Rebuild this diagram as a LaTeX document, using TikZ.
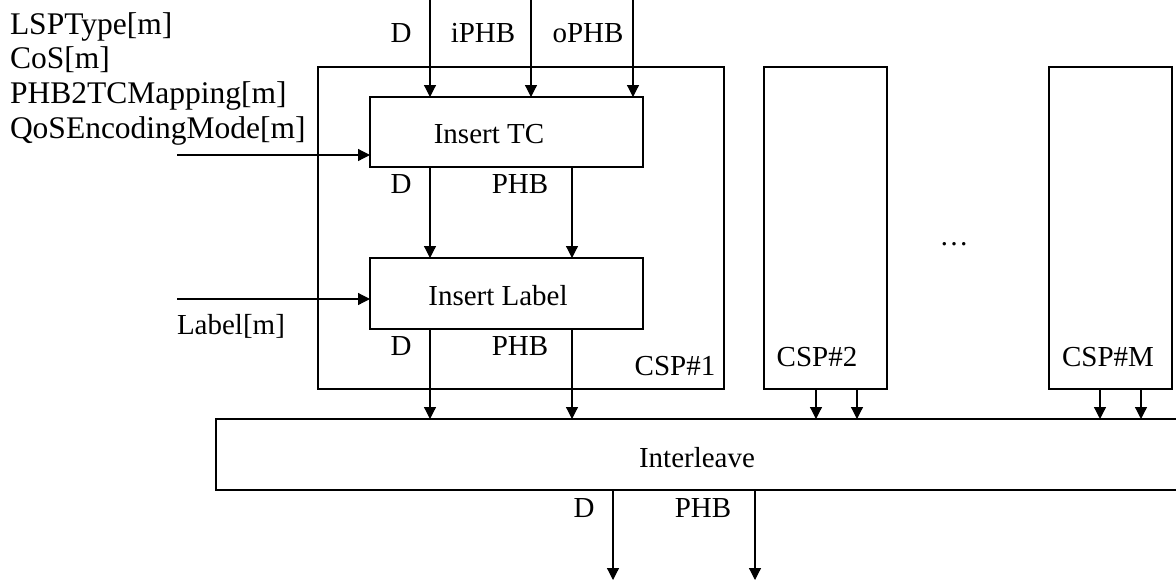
\documentclass[tikz,border=0pt]{standalone}
\usepackage{fontspec}
\setmainfont{Liberation Serif}
\usetikzlibrary{arrows.meta}
\begin{document}
\begin{tikzpicture}[x=1pt,y=-1pt,line width=1.2pt,
  box/.style={draw,line width=1.2pt,inner sep=0pt,outer sep=0pt},
  arr/.style={-{Triangle[length=12pt,width=12pt]},line width=1.2pt},
  lbl/.style={inner sep=0pt,outer sep=0pt,font=\fontsize{29pt}{34pt}\selectfont,anchor=base},
  lst/.style={inner sep=0pt,outer sep=0pt,font=\fontsize{31.5pt}{35pt}\selectfont,anchor=base west}]
\clip (0,0) rectangle (1176,582);
\useasboundingbox (0,0) rectangle (1176,582);

% parameter list
\node[lst] (p1) at (10,34) {LSPType[m]};
\node[lst] (p2) at (10,68.7) {CoS[m]};
\node[lst] (p3) at (10,103.3) {PHB2TCMapping[m]};
\node[lst] (p4) at (10,138) {QoSEncodingMode[m]};

% boxes
\node[box,minimum width=406pt,minimum height=322pt] (c1) at (521,228) {};
\node[box,minimum width=273pt,minimum height=70pt] (tc) at (506.5,132) {};
\node[box,minimum width=273pt,minimum height=71pt] (il) at (506.5,293.5) {};
\node[box,minimum width=123pt,minimum height=322pt] (c2) at (825.5,228) {};
\node[box,minimum width=123pt,minimum height=322pt] (cm) at (1110.5,228) {};
\node[box,minimum width=964pt,minimum height=71pt] (iv) at (698,454.5) {};

% box texts
\node[lbl] (tctext) at (489,143) {Insert TC};
\node[lbl] (iltext) at (498,305) {Insert Label};
\node[lbl] (c1text) at (675,375) {CSP\#1};
\node[lbl] (c2text) at (817,366) {CSP\#2};
\node[lbl] (cmtext) at (1108,366) {CSP\#M};
\node[lbl] (ivtext) at (697,467) {Interleave};
\node[lbl] (dots) at (954,245) {…};

% column coordinates
\coordinate (tD) at (430,0);
\coordinate (tI) at (531,0);
\coordinate (tO) at (633,0);
\coordinate (xP) at (572,0);
\coordinate (x2a) at (816,0);
\coordinate (x2b) at (857,0);
\coordinate (xma) at (1100,0);
\coordinate (xmb) at (1141,0);
\coordinate (oD) at (613,580);
\coordinate (oP) at (755,580);
\coordinate (lq) at (177,155);
\coordinate (ll) at (177,299);

% input arrows
\draw[arr] (tD) -- (tD |- tc.north);
\draw[arr] (tI) -- (tI |- tc.north);
\draw[arr] (tO) -- (tO |- tc.north);
\node[lbl] (lD0) at (401,42) {D};
\node[lbl] (lI0) at (483,42) {iPHB};
\node[lbl] (lO0) at (588,42) {oPHB};

\draw[arr] (lq) -- (lq -| tc.west);
\draw[arr] (ll) -- (ll -| il.west);
\node[lst,font=\fontsize{29pt}{34pt}\selectfont] (lab) at (177,334) {Label[m]};

% tc -> il
\draw[arr] (tD |- tc.south) -- (tD |- il.north);
\draw[arr] (xP |- tc.south) -- (xP |- il.north);
\node[lbl] (lD1) at (401,193) {D};
\node[lbl] (lP1) at (520,193) {PHB};

% il -> interleave
\draw[arr] (tD |- il.south) -- (tD |- iv.north);
\draw[arr] (xP |- il.south) -- (xP |- iv.north);
\node[lbl] (lD2) at (401,355) {D};
\node[lbl] (lP2) at (520,355) {PHB};

% CSP#2 / CSP#M -> interleave
\draw[arr] (x2a |- c2.south) -- (x2a |- iv.north);
\draw[arr] (x2b |- c2.south) -- (x2b |- iv.north);
\draw[arr] (xma |- cm.south) -- (xma |- iv.north);
\draw[arr] (xmb |- cm.south) -- (xmb |- iv.north);

% outputs
\draw[arr] (oD |- iv.south) -- (oD);
\draw[arr] (oP |- iv.south) -- (oP);
\node[lbl] (lD3) at (584,517) {D};
\node[lbl] (lP3) at (703,517) {PHB};
\end{tikzpicture}
\end{document}
